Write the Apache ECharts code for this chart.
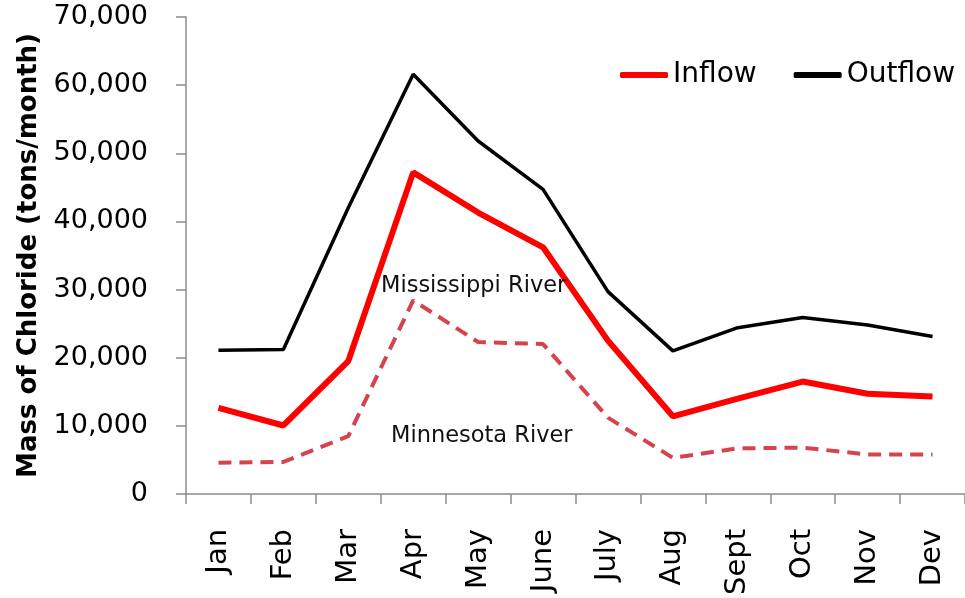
<!DOCTYPE html>
<html>
<head>
<meta charset="utf-8">
<script src="https://cdn.jsdelivr.net/npm/echarts@6/dist/echarts.min.js"></script>
<style>
html,body{margin:0;padding:0;background:#fff;}
#chart{width:965px;height:598px;}
</style>
</head>
<body>
<div id="chart"></div>
<script>
var months = ['Jan','Feb','Mar','Apr','May','June','July','Aug','Sept','Oct','Nov','Dev'];
var inflow = [12650, 10050, 19500, 47200, 41300, 36200, 22500, 11400, 14000, 16500, 14700, 14300];
var outflow = [21100, 21200, 42000, 61600, 51800, 44700, 29700, 21000, 24400, 25900, 24800, 23100];
var minnesota = [4600, 4700, 8500, 28400, 22300, 22000, 11200, 5300, 6700, 6800, 5800, 5800];
var yTicks = {min: 0, max: 70000, interval: 10000};
var yTitle = 'Mass of Chloride (tons/month)';
var noteMississippi = 'Mississippi River';
var noteMinnesota = 'Minnesota River';

var FONT = 'DejaVu Sans';
function fmt(v){ return String(v).replace(/\B(?=(\d{3})+(?!\d))/g, ','); }

var chart = echarts.init(document.getElementById('chart'), null, {renderer:'canvas'});
chart.setOption({
  animation: false,
  backgroundColor: '#ffffff',
  grid: {left: 186, top: 17, width: 785, height: 480, containLabel: false},
  legend: {
    orient: 'horizontal',
    data: [
      {name: 'Inflow', icon: 'roundRect', itemStyle: {color: '#ff0000'}},
      {name: 'Outflow', icon: 'roundRect', itemStyle: {color: '#000000'}}
    ],
    left: 620, top: 61, width: 400, padding: 0,
    itemWidth: 48, itemHeight: 6, itemGap: 37,
    textStyle: {fontFamily: FONT, fontSize: 28, color: '#000'}
  },
  xAxis: {
    type: 'category',
    data: months,
    boundaryGap: true,
    axisLine: {show: true, lineStyle: {color: '#8c8c8c', width: 1.5}},
    axisTick: {show: true, length: 10, lineStyle: {color: '#8c8c8c', width: 1.5}},
    axisLabel: {rotate: 90, margin: 35, fontFamily: FONT, fontSize: 29, color: '#000', interval: 0}
  },
  yAxis: {
    type: 'value',
    min: yTicks.min, max: yTicks.max, interval: yTicks.interval,
    name: yTitle,
    nameLocation: 'middle',
    nameGap: 142,
    nameTextStyle: {fontFamily: FONT, fontSize: 26, fontWeight: 'bold', color: '#000'},
    axisLine: {show: true, lineStyle: {color: '#8c8c8c', width: 1.5}},
    axisTick: {show: true, length: 10, lineStyle: {color: '#8c8c8c', width: 1.5}},
    splitLine: {show: false},
    axisLabel: {margin: 38, fontFamily: FONT, fontSize: 27, color: '#000', formatter: fmt}
  },
  series: [
    {name: 'Minnesota', type: 'line', data: minnesota, symbol: 'none',
     lineStyle: {color: '#d5444e', width: 4, type: [13, 8]}, itemStyle: {color: '#d5444e'}},
    {name: 'Outflow', type: 'line', data: outflow, symbol: 'none',
     lineStyle: {color: '#000000', width: 3.5}, itemStyle: {color: '#000000'}},
    {name: 'Inflow', type: 'line', data: inflow, symbol: 'none',
     lineStyle: {color: '#ff0000', width: 6}, itemStyle: {color: '#ff0000'}}
  ],
  graphic: [
    {type: 'text', left: 381, top: 275, z: 100,
     style: {text: noteMississippi, fontFamily: FONT, fontSize: 22.5, fill: '#111'}},
    {type: 'text', left: 391, top: 425, z: 100,
     style: {text: noteMinnesota, fontFamily: FONT, fontSize: 22.5, fill: '#111'}}
  ]
});
</script>
</body>
</html>
